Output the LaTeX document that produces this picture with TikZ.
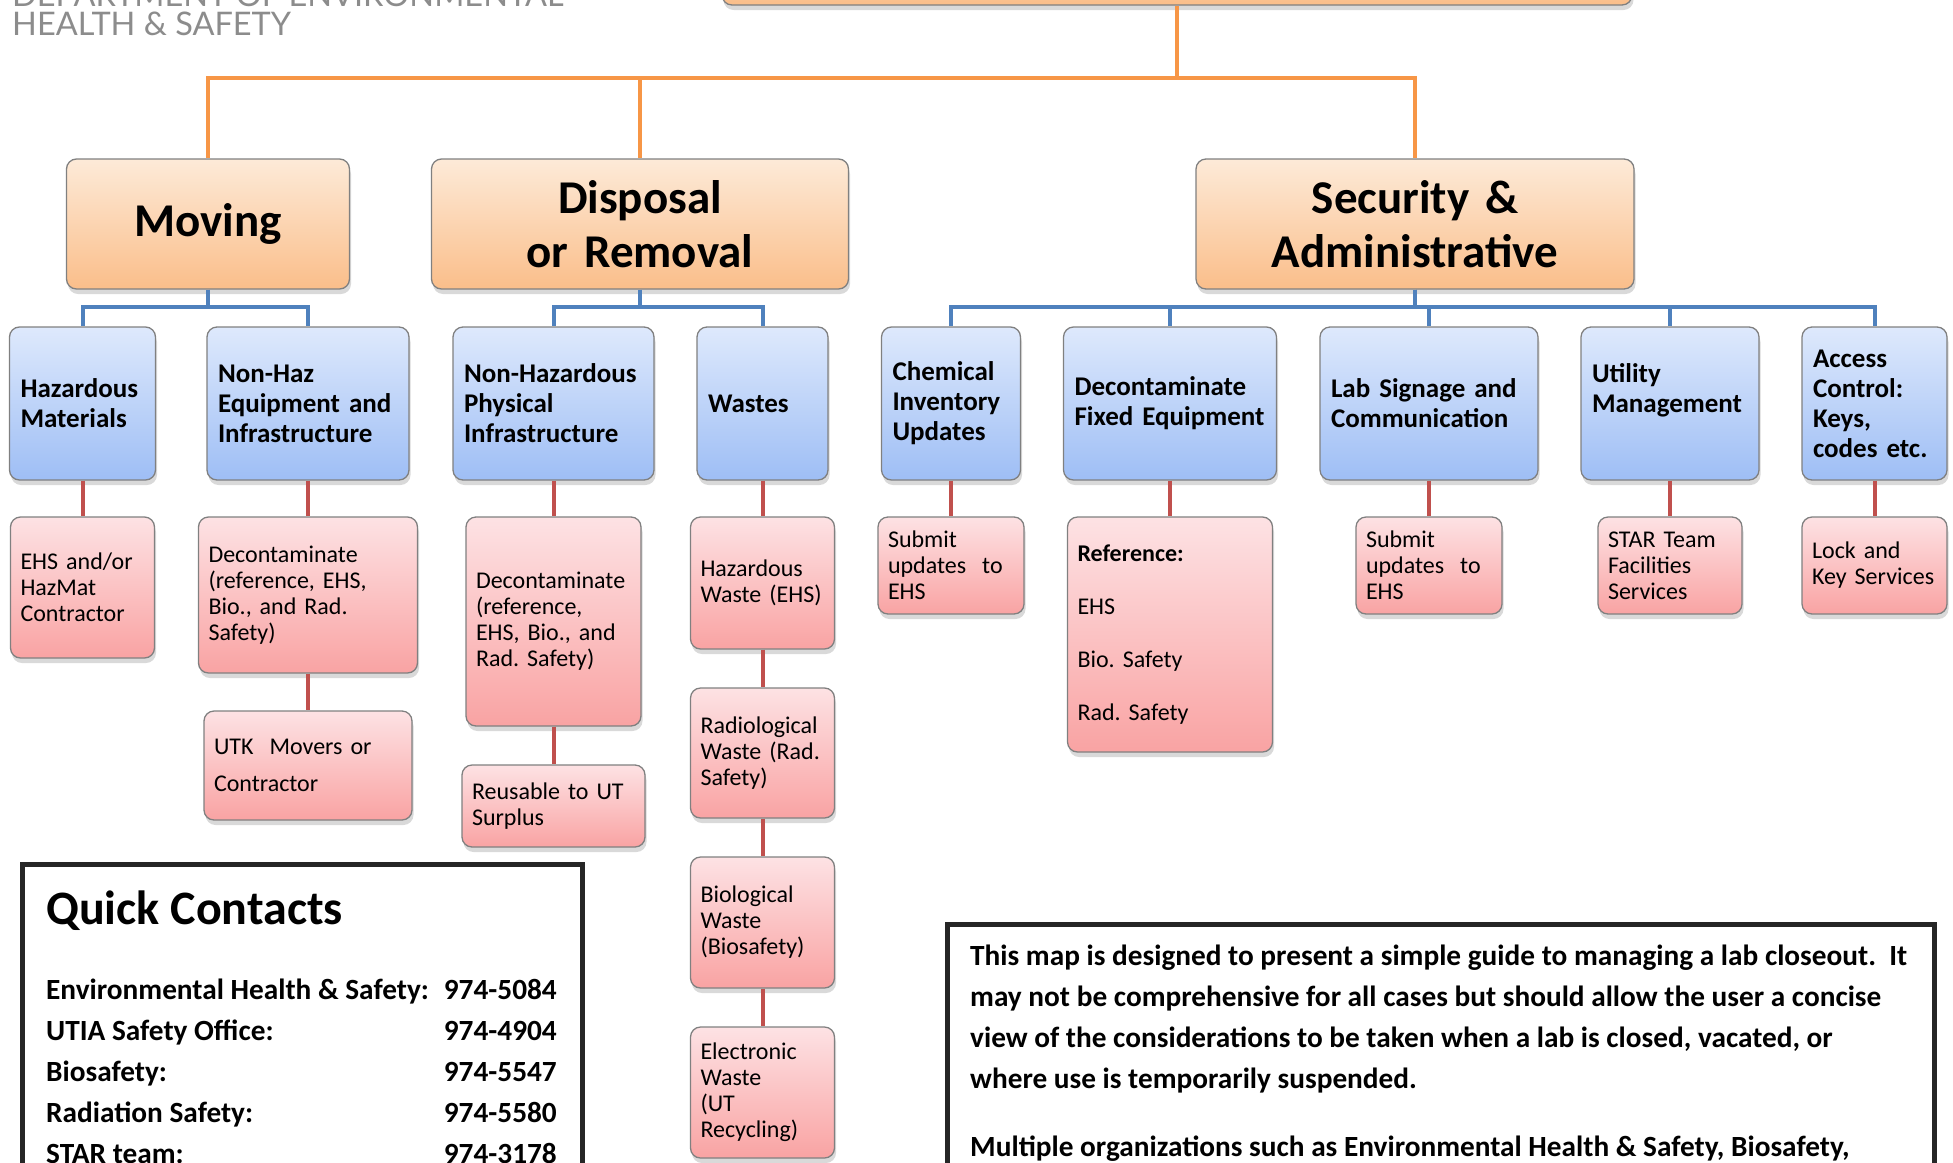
\documentclass[tikz,border=0pt]{standalone}
\usepackage{fontspec}
\setmainfont{Carlito}
\newfontfamily\headfont{Lato}
\usetikzlibrary{shadows}
\frenchspacing

\definecolor{orangetop}{RGB}{253,234,216}
\definecolor{orangebot}{RGB}{250,190,138}
\definecolor{bluetop}{RGB}{222,233,252}
\definecolor{bluebot}{RGB}{158,190,245}
\definecolor{pinktop}{RGB}{253,226,228}
\definecolor{pinkbot}{RGB}{249,163,163}
\definecolor{lineorange}{RGB}{247,150,70}
\definecolor{lineblue}{RGB}{79,129,189}
\definecolor{linered}{RGB}{192,80,77}
\definecolor{headgray}{RGB}{140,140,140}

\tikzset{
  box/.style={draw=black!50, line width=1.3pt, rounded corners=10pt,
    drop shadow={shadow xshift=1.5pt, shadow yshift=-5pt, opacity=.3},
    align=left, inner ysep=0pt},
  topbox/.style={box, top color=orangetop, bottom color=orangebot, align=center,
    inner xsep=10pt, minimum height=130pt, font=\bfseries\fontsize{47}{54}\selectfont},
  areabox/.style={box, top color=bluetop, bottom color=bluebot, inner xsep=11pt,
    minimum height=153pt, text width=#1, font=\bfseries\fontsize{27}{30}\selectfont},
  taskbox/.style={box, top color=pinktop, bottom color=pinkbot, inner xsep=10pt,
    text width=#1, font=\fontsize{24}{26}\selectfont},
  orangeline/.style={draw=lineorange, line width=4pt},
  blueline/.style={draw=lineblue, line width=4pt},
  redline/.style={draw=linered, line width=4pt},
  infobox/.style={draw=black!85, line width=5pt},
  head/.style={inner sep=0pt, text=headgray, font=\headfont\fontsize{32.5}{32.5}\selectfont},
  contact/.style={inner sep=0pt, font=\bfseries\fontsize{29.3}{41}\selectfont},
}

\begin{document}
\begin{tikzpicture}[x=1pt, y=-1pt]
  \useasboundingbox (0,0) rectangle (1953,1162);
  \clip (0,0) rectangle (1953,1162);

  % header
  \node[head, anchor=base west] (deptline) at (12,6) {DEPARTMENT OF ENVIRONMENTAL};
  \node[head, anchor=base west] (safetyline) at (12,35) {HEALTH \& SAFETY};

  % top level
  \node[topbox, minimum width=910pt] (root) at (1177,-60) {};
  \node[topbox, text width=263pt] (moving) at (208,224) {Moving};
  \node[topbox, text width=397pt] (disposal) at (640,224) {Disposal\\or Removal};
  \node[topbox, text width=418pt] (security) at (1415,224) {Security \&\\Administrative};

  \coordinate (rootjoin) at (1177,78);
  \draw[orangeline] (root.south) -- (rootjoin);
  \foreach \c in {moving,disposal,security}
    \draw[orangeline] (rootjoin) -| (\c.north);

  % areas
  \node[areabox=124pt] (hazmat) at (82.5,403.5) {Hazardous\\Materials};
  \node[areabox=180pt] (nonhaz) at (308,403.5) {Non-Haz\\Equipment and\\Infrastructure};
  \node[areabox=179pt] (physical) at (553.5,403.5) {Non-Hazardous\\Physical\\Infrastructure};
  \node[areabox=109pt] (wastes) at (762.5,403.5) {Wastes};
  \node[areabox=117pt] (chem) at (951,403.5) {Chemical\\Inventory\\Updates};
  \node[areabox=191pt] (fixed) at (1170,403.5) {Decontaminate\\Fixed Equipment};
  \node[areabox=196pt] (signage) at (1429,403.5) {Lab Signage and\\Communication};
  \node[areabox=156pt] (utility) at (1670,403.5) {Utility\\Management\\~};
  \node[areabox=123pt] (access) at (1874.5,403.5) {Access\\Control:\\Keys,\\codes etc.};

  \foreach \c in {hazmat,nonhaz}
    \draw[blueline] (moving.south) -- ++(0,17) -| (\c.north);
  \foreach \c in {physical,wastes}
    \draw[blueline] (disposal.south) -- ++(0,17) -| (\c.north);
  \foreach \c in {chem,fixed,signage,utility,access}
    \draw[blueline] (security.south) -- ++(0,17) -| (\c.north);

  % tasks
  \node[taskbox=124pt, minimum height=141pt] (contractor) at (82.5,587.5) {EHS and/or\\HazMat\\Contractor};
  \node[taskbox=199pt, minimum height=156pt] (decon) at (308,595) {Decontaminate\\(reference, EHS,\\Bio., and Rad.\\Safety)};
  \node[taskbox=188pt, minimum height=109pt] (movers) at (308,765.5) {UTK\ \ Movers or\\[11pt]Contractor};
  \node[taskbox=155pt, minimum height=209pt] (deconphys) at (553.5,621.5) {Decontaminate\\(reference,\\EHS, Bio., and\\Rad. Safety)};
  \node[taskbox=163pt, minimum height=82pt] (surplus) at (553.5,806) {Reusable to UT\\Surplus};
  \node[taskbox=124pt, minimum height=132pt] (hazwaste) at (762.5,583) {Hazardous\\Waste (EHS)};
  \node[taskbox=124pt, minimum height=130pt] (radwaste) at (762.5,753) {Radiological\\Waste (Rad.\\Safety)};
  \node[taskbox=124pt, minimum height=131pt] (biowaste) at (762.5,922.5) {Biological\\Waste\\(Biosafety)};
  \node[taskbox=124pt, minimum height=131pt] (ewaste) at (762.5,1092.5) {Electronic\\Waste\\(UT\\Recycling)};
  \node[taskbox=126pt, minimum height=97pt] (chemsubmit) at (951,565.5) {Submit\\updates\ \ to\\EHS};
  \node[taskbox=185pt, minimum height=235pt] (reference) at (1170,634.5) {\textbf{Reference:}\\[27pt]EHS\\[27pt]Bio. Safety\\[27pt]Rad. Safety};
  \node[taskbox=126pt, minimum height=97pt] (signsubmit) at (1429,565.5) {Submit\\updates\ \ to\\EHS};
  \node[taskbox=124pt, minimum height=97pt] (starteam) at (1670,565.5) {STAR Team\\Facilities\\Services};
  \node[taskbox=125pt, minimum height=97pt] (keys) at (1874.5,565.5) {Lock and\\Key Services};

  \foreach \a/\b in {hazmat/contractor, nonhaz/decon, decon/movers, physical/deconphys,
      deconphys/surplus, wastes/hazwaste, hazwaste/radwaste, radwaste/biowaste,
      biowaste/ewaste, chem/chemsubmit, fixed/reference, signage/signsubmit,
      utility/starteam, access/keys}
    \draw[redline] (\a.south) -- (\b.north);

  % quick contacts
  \draw[infobox] (22,864) rectangle (582,1220);
  \node[inner sep=0pt, anchor=base west, font=\bfseries\fontsize{48}{50}\selectfont] (qctitle) at (46,924) {Quick Contacts};
  \foreach \name/\num [count=\i from 0] in {Environmental Health \& Safety:/974-5084,
      UTIA Safety Office:/974-4904, Biosafety:/974-5547,
      Radiation Safety:/974-5580, STAR team:/974-3178} {
    \node[contact, anchor=base west] (cname\i) at (46,{999+41*\i}) {\name};
    \node[contact, anchor=base east] (cnum\i) at (557,{999+41*\i}) {\num};
  }

  % note
  \draw[infobox] (947,924) rectangle (1934,1220);
  \foreach \line [count=\i from 0] in {
      {This map is designed to present a simple guide to managing a lab closeout.\ \ It},
      {may not be comprehensive for all cases but should allow the user a concise},
      {view of the considerations to be taken when a lab is closed, vacated, or},
      {where use is temporarily suspended.}}
    \node[contact, anchor=base west] (note\i) at (970,{965+41*\i}) {\line};
  \node[contact, anchor=base west] (note4) at (970,1156) {Multiple organizations such as Environmental Health \& Safety, Biosafety,};
\end{tikzpicture}
\end{document}
